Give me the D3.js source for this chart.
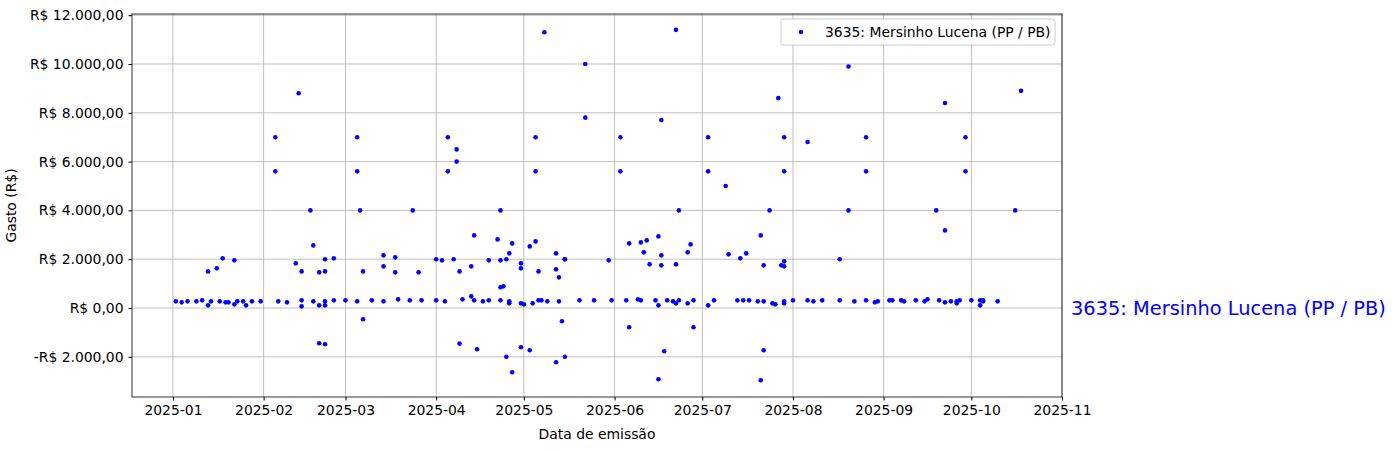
<!DOCTYPE html>
<html>
<head>
<meta charset="utf-8">
<script src="https://cdn.jsdelivr.net/npm/d3@7"></script>
<style>
  body { margin: 0; background: #fff; }
  text { font-family: "DejaVu Sans", sans-serif; }
</style>
</head>
<body>
<div id="chartContainer"></div>
<script>
// Gastos da cota parlamentar
const dates = [
  "2025-01-02","2025-01-04","2025-01-06","2025-01-09","2025-01-11","2025-01-13","2025-01-13","2025-01-14","2025-01-16","2025-01-17",
  "2025-01-18","2025-01-19","2025-01-20","2025-01-22","2025-01-22","2025-01-23","2025-01-25","2025-01-26","2025-01-28","2025-01-31",
  "2025-02-05","2025-02-05","2025-02-06","2025-02-09","2025-02-12","2025-02-13","2025-02-14","2025-02-14","2025-02-14","2025-02-17",
  "2025-02-18","2025-02-18","2025-02-20","2025-02-20","2025-02-20","2025-02-22","2025-02-22","2025-02-22","2025-02-22","2025-02-22",
  "2025-02-25","2025-02-25","2025-03-01","2025-03-05","2025-03-05","2025-03-05","2025-03-06","2025-03-07","2025-03-07","2025-03-10",
  "2025-03-14","2025-03-14","2025-03-14","2025-03-18","2025-03-18","2025-03-19","2025-03-23","2025-03-24","2025-03-26","2025-03-27",
  "2025-04-01","2025-04-01","2025-04-03","2025-04-04","2025-04-05","2025-04-05","2025-04-07","2025-04-08","2025-04-08","2025-04-09",
  "2025-04-09","2025-04-10","2025-04-13","2025-04-13","2025-04-14","2025-04-14","2025-04-15","2025-04-17","2025-04-19","2025-04-19",
  "2025-04-22","2025-04-23","2025-04-23","2025-04-23","2025-04-23","2025-04-24","2025-04-25","2025-04-25","2025-04-26","2025-04-26",
  "2025-04-26","2025-04-27","2025-04-27","2025-04-30","2025-04-30","2025-04-30","2025-04-30","2025-05-01",
  "2025-05-03","2025-05-03","2025-05-04","2025-05-05","2025-05-05","2025-05-05","2025-05-06","2025-05-06","2025-05-07","2025-05-08",
  "2025-05-09","2025-05-12","2025-05-12","2025-05-12","2025-05-13","2025-05-13","2025-05-14","2025-05-15","2025-05-15","2025-05-15",
  "2025-05-20","2025-05-22","2025-05-22","2025-05-25","2025-05-30","2025-05-31",
  "2025-06-03","2025-06-03","2025-06-05","2025-06-06","2025-06-06","2025-06-09","2025-06-10","2025-06-10","2025-06-11","2025-06-12",
  "2025-06-13","2025-06-15","2025-06-16","2025-06-16","2025-06-16","2025-06-17","2025-06-17","2025-06-17","2025-06-18","2025-06-19",
  "2025-06-21","2025-06-22","2025-06-22","2025-06-22","2025-06-23","2025-06-23","2025-06-26","2025-06-26","2025-06-27","2025-06-28",
  "2025-06-28",
  "2025-07-03","2025-07-03","2025-07-03","2025-07-05","2025-07-09","2025-07-10","2025-07-13","2025-07-14","2025-07-15","2025-07-16",
  "2025-07-17","2025-07-20","2025-07-21","2025-07-21","2025-07-22","2025-07-22","2025-07-22","2025-07-24","2025-07-25","2025-07-26",
  "2025-07-27","2025-07-28","2025-07-29","2025-07-29","2025-07-29","2025-07-29","2025-07-29","2025-07-29",
  "2025-08-01","2025-08-06","2025-08-06","2025-08-08","2025-08-11","2025-08-17","2025-08-17","2025-08-20","2025-08-20","2025-08-22",
  "2025-08-26","2025-08-26","2025-08-26","2025-08-29","2025-08-30",
  "2025-09-03","2025-09-04","2025-09-07","2025-09-08","2025-09-12","2025-09-15","2025-09-16","2025-09-19","2025-09-20","2025-09-22",
  "2025-09-22","2025-09-22","2025-09-24","2025-09-26","2025-09-26","2025-09-27","2025-09-29","2025-09-29","2025-10-01",
  "2025-10-04","2025-10-04","2025-10-05","2025-10-05","2025-10-10","2025-10-16","2025-10-18"
];
const values = [
  273,232,273,273,314,109,1500,273,1624,273,
  2034,232,232,150,1952,273,273,109,273,273,
  7000,5600,273,232,1829,8800,314,1500,68,4000,
  273,2566,1460,109,-1447,2000,1500,273,109,-1488,
  2034,314,314,7000,5600,273,4000,1500,-464,314,
  273,2157,1706,2075,1460,355,314,4000,1460,314,
  2000,314,1952,273,7000,5600,2000,6500,6000,1500,
  -1460,355,1706,478,2976,314,-1693,273,314,1952,
  2812,4000,314,1952,846,887,2000,-2000,191,2239,
  273,2648,-2634,191,1829,1624,-1611,150,
  2525,-1734,191,7000,5600,2730,314,1500,314,11300,
  273,2239,1583,-2225,1256,273,-546,2000,-2000,2000,
  314,7800,10000,314,1952,314,
  7000,5600,314,2648,-792,355,2689,314,2280,2771,
  1788,314,2935,109,-2921,7700,2157,1747,-1775,314,
  273,1788,11400,191,4000,314,191,2280,2607,-792,
  314,
  7000,5600,109,314,5000,2198,314,2034,314,2239,
  314,273,2976,-2962,1747,-1734,273,4000,191,150,
  8600,1747,7000,5600,1911,273,191,1706,
  314,314,6800,273,314,314,2000,9900,4000,273,
  7000,5600,314,232,273,
  314,314,314,273,314,273,355,4000,314,8400,
  3180,232,273,273,191,314,7000,5600,314,
  314,109,314,273,273,4000,8900
];
const yTicks = [-2000, 0, 2000, 4000, 6000, 8000, 10000, 12000];
const xTicks = ["2025-01","2025-02","2025-03","2025-04","2025-05","2025-06","2025-07","2025-08","2025-09","2025-10","2025-11"];
const seriesName = "3635: Mersinho Lucena (PP / PB)";

const parse = d3.timeParse("%Y-%m-%d");
const parseMonth = d3.timeParse("%Y-%m");
const data = dates.map((d, i) => ({ date: parse(d), value: values[i] }));

const W = 1396, H = 451;
const margin = { top: 14, right: 334, bottom: 54, left: 132 };
const width = W - margin.left - margin.right;
const height = H - margin.top - margin.bottom;

const svg = d3.select("#chartContainer")
  .append("svg")
  .attr("width", W)
  .attr("height", H);

const g = svg.append("g")
  .attr("transform", `translate(${margin.left}, ${margin.top})`);

const xScale = d3.scaleTime()
  .domain([new Date(2024, 11, 18.6), new Date(2025, 10, 1.1)])
  .range([0, width]);
const yScale = d3.scaleLinear()
  .domain([-3648, 12049])
  .range([height, 0]);

// Brazilian currency labels
function brl(v) {
  const s = Math.abs(v).toFixed(2).replace(".", ",").replace(/\B(?=(\d{3})+(?!\d))/g, ".");
  return (v < 0 ? "-R$ " : "R$ ") + s;
}

// grid
g.append("g").selectAll("line")
  .data(xTicks)
  .enter().append("line")
  .attr("x1", d => xScale(parseMonth(d)))
  .attr("x2", d => xScale(parseMonth(d)))
  .attr("y1", 0).attr("y2", height)
  .attr("stroke", "#b0b0b0").attr("stroke-width", 0.8);
g.append("g").selectAll("line")
  .data(yTicks)
  .enter().append("line")
  .attr("x1", 0).attr("x2", width)
  .attr("y1", d => yScale(d)).attr("y2", d => yScale(d))
  .attr("stroke", "#b0b0b0").attr("stroke-width", 0.8);

// points
g.selectAll("circle")
  .data(data)
  .enter()
  .append("circle")
  .attr("cx", d => xScale(d.date))
  .attr("cy", d => yScale(d.value))
  .attr("r", 2.3)
  .attr("fill", "blue");

// axes
const xAxis = g.append("g")
  .attr("transform", `translate(0, ${height})`)
  .call(d3.axisBottom(xScale)
    .tickValues(xTicks.map(d => parseMonth(d)))
    .tickFormat(d3.timeFormat("%Y-%m"))
    .tickSizeOuter(0).tickSize(3.5).tickPadding(5));
const yAxis = g.append("g")
  .call(d3.axisLeft(yScale)
    .tickValues(yTicks)
    .tickFormat(brl)
    .tickSizeOuter(0).tickSize(3.5).tickPadding(5));
[xAxis, yAxis].forEach(a => {
  a.select(".domain").remove();
  a.selectAll("text").attr("font-size", "13.9px").attr("font-family", "DejaVu Sans").attr("fill", "#000");
  a.selectAll("line").attr("stroke", "#000");
});

// frame
g.append("rect")
  .attr("width", width).attr("height", height)
  .attr("fill", "none").attr("stroke", "#000").attr("stroke-width", 0.8);

// axis titles
g.append("text")
  .attr("x", width / 2).attr("y", height + 42)
  .attr("text-anchor", "middle").attr("font-size", "13.9px")
  .text("Data de emissão");
g.append("text")
  .attr("transform", `translate(${-116}, ${height / 2}) rotate(-90)`)
  .attr("text-anchor", "middle").attr("font-size", "13.9px")
  .text("Gasto (R$)");

// legend
const lg = g.append("g").attr("transform", `translate(${width - 281}, 5)`);
lg.append("rect")
  .attr("width", 274).attr("height", 26).attr("rx", 3)
  .attr("fill", "#fff").attr("fill-opacity", 0.8)
  .attr("stroke", "#ccc");
lg.append("circle").attr("cx", 20).attr("cy", 13).attr("r", 2.3).attr("fill", "blue");
lg.append("text").attr("x", 44).attr("y", 18).attr("font-size", "13.9px").text(seriesName);

// label at the right of the axes
g.append("text")
  .attr("x", width + 9).attr("y", yScale(0) + 7)
  .attr("font-size", "19.4px").attr("fill", "blue")
  .text(seriesName);
</script>
</body>
</html>
